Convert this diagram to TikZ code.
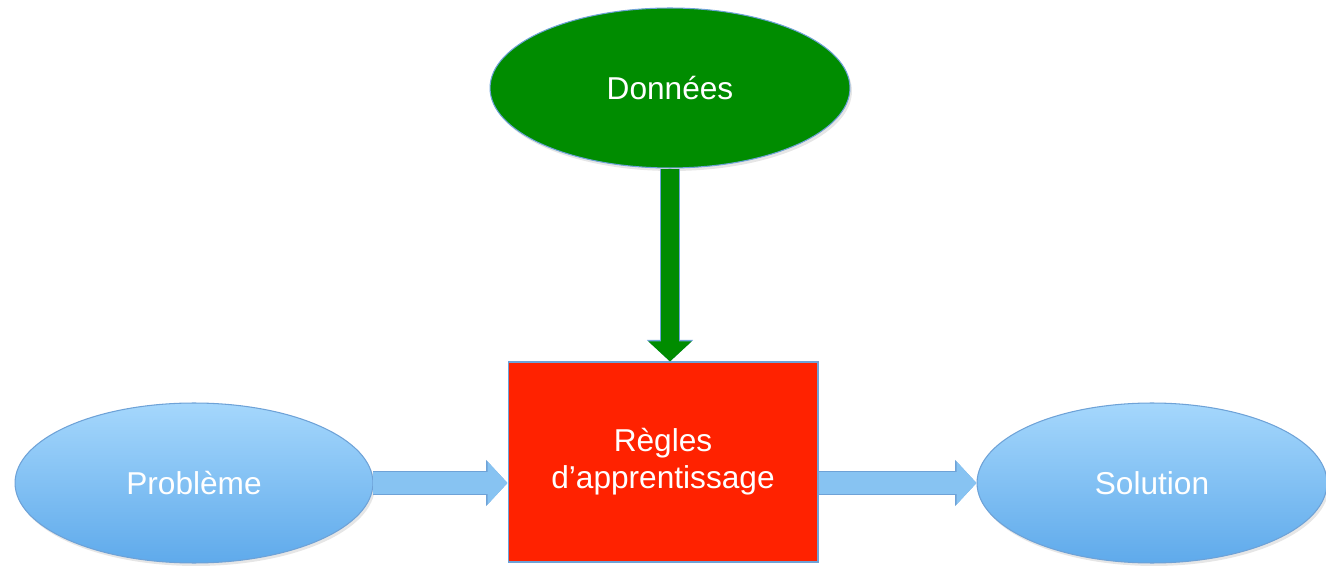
\documentclass[tikz,border=0pt]{standalone}
\usepackage{fontspec}
\setmainfont{Liberation Sans}
\usepackage{xcolor}
\usepackage{tikz}
\usetikzlibrary{arrows.meta,positioning,shapes.geometric,shadows}
\definecolor{datagreen}{RGB}{0,140,0}
\definecolor{rulered}{RGB}{255,34,0}
\definecolor{edgeblue}{RGB}{110,162,215}
\definecolor{skytop}{RGB}{165,215,252}
\definecolor{skybottom}{RGB}{95,170,235}
\definecolor{arrowblue}{RGB}{135,195,242}
\tikzset{
  dataellipse/.style={ellipse,draw=edgeblue,fill=datagreen,line width=0.6pt,inner sep=0pt,
    minimum width=7.2cm,minimum height=3.2cm,text=white,font=\fontsize{18}{21}\selectfont,
    drop shadow={opacity=0.2,shadow xshift=0.04cm,shadow yshift=-0.06cm}},
  ioellipse/.style={ellipse,draw=edgeblue,top color=skytop,bottom color=skybottom,line width=0.6pt,
    inner sep=0pt,minimum height=3.2cm,text=white,font=\fontsize{18}{21}\selectfont,
    drop shadow={opacity=0.2,shadow xshift=0.04cm,shadow yshift=-0.06cm}},
  rulebox/.style={rectangle,draw=edgeblue,fill=rulered,line width=0.6pt,align=center,
    minimum width=6.2cm,minimum height=4cm,text=white,font=\fontsize{18}{21}\selectfont},
  bluearrow/.style={line width=0.44cm,draw=arrowblue,-{Triangle[width=0.84cm,length=0.4cm]},
    preaction={draw=edgeblue,line width=0.48cm,-{Triangle[width=0.9cm,length=0.43cm]}}},
  greenarrow/.style={line width=0.36cm,draw=datagreen,-{Triangle[width=0.84cm,length=0.4cm]},
    preaction={draw=edgeblue,line width=0.40cm,-{Triangle[width=0.9cm,length=0.43cm]}}}
}

\begin{document}
\begin{tikzpicture}[x=0.02cm,y=0.02cm]
  \useasboundingbox (0,0) rectangle (1326,565);
  \node[dataellipse] (donnees) at (670,477) {Données};
  \node[rulebox] (regles) at (663,103) {Règles\\d’apprentissage};
  \node[ioellipse,minimum width=7.16cm] (probleme) at (194,82) {Problème};
  \node[ioellipse,minimum width=7cm] (solution) at (1152,82) {Solution};
  % fleches
  \draw[greenarrow] (donnees.south) -- (donnees.south |- regles.north);
  \draw[bluearrow] (probleme.east) -- (probleme.east -| regles.west);
  \draw[bluearrow] (regles.east |- solution.west) -- (solution.west);
\end{tikzpicture}
\end{document}
